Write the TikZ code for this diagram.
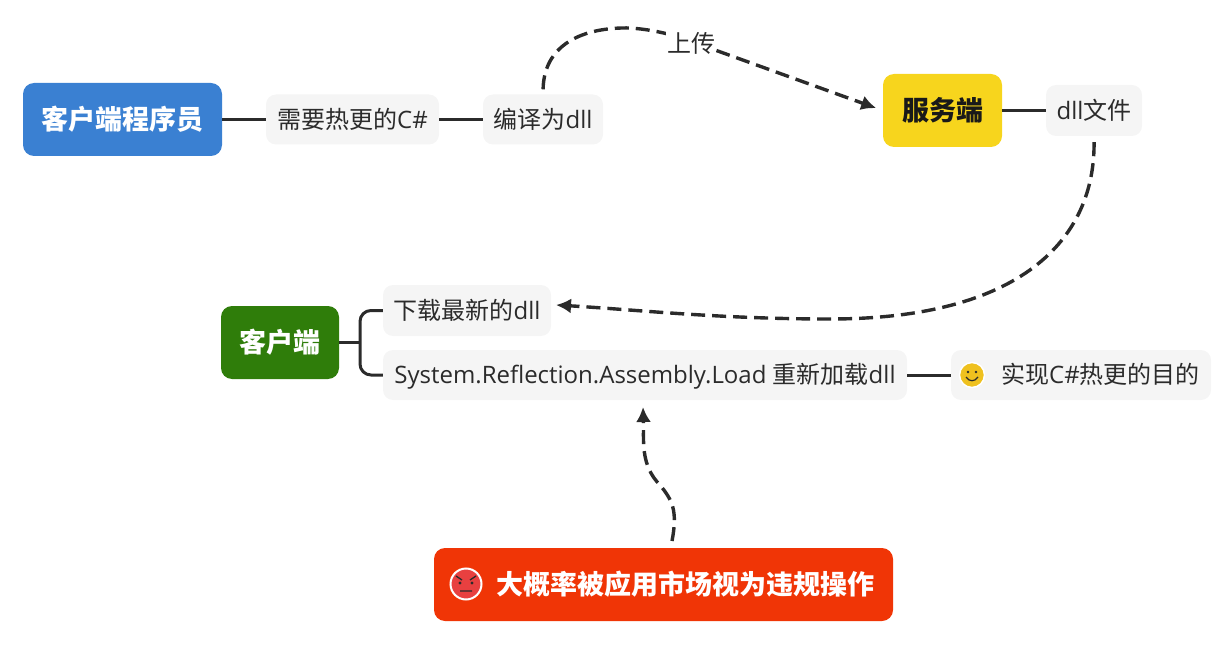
\documentclass[tikz,border=0pt]{standalone}
\usepackage{fontspec}
\setmainfont{Open Sans}
\newfontfamily\cjk{Noto Sans CJK SC}
\newcommand{\zh}[1]{{\cjk #1}}
\usetikzlibrary{arrows.meta}
\usetikzlibrary{calc}
\definecolor{ink}{HTML}{2B2B2B}
\definecolor{leaffill}{HTML}{F5F5F5}
\definecolor{progblue}{HTML}{3A80D2}
\definecolor{servyellow}{HTML}{F7D51D}
\definecolor{clientgreen}{HTML}{2F7D0A}
\definecolor{warnred}{HTML}{F03506}
\definecolor{smileyellow}{HTML}{EFC11F}
\definecolor{angryred}{HTML}{E84040}
\tikzset{
	leaf/.style={fill=leaffill,rounded corners=10pt,text=ink,inner sep=0pt,minimum height=50pt,text height=21pt,text depth=3.5pt,font=\fontsize{24}{28}\selectfont},
	topic/.style={rounded corners=11pt,inner sep=0pt,minimum height=73pt,text=white,font=\fontsize{27}{32}\selectfont\bfseries},
	branch/.style={draw=ink,line width=3pt},
	relation/.style={draw=ink,line width=3.4pt,dash pattern=on 14pt off 7pt,-{Latex[length=15pt,width=15pt]}}
}
\begin{document}
\begin{tikzpicture}[x=1pt,y=-1pt]
	\useasboundingbox (0,0) rectangle (1232,655);

	\node[topic,fill=progblue,minimum width=199pt] (prog) at (122.5,119.5) {\zh{\bfseries 客户端程序员}};
	\node[leaf,minimum width=173pt] (need) at (352.5,119.5) {\zh{需要热更的}C\#};
	\node[leaf,minimum width=120pt] (comp) at (543,119.5) {\zh{编译为}dll};
	\node[topic,fill=servyellow,text=black!90,minimum width=119pt] (server) at (942.5,110.5) {\zh{\bfseries 服务端}};
	\node[leaf,minimum width=96pt,minimum height=51pt] (dll) at (1094,110.5) {dll\zh{文件}};

	\node[topic,fill=clientgreen,minimum width=118pt] (client) at (280,342.5) {\zh{\bfseries 客户端}};
	\node[leaf,minimum width=168pt,minimum height=51pt] (down) at (467,310.5) {\zh{下载最新的}dll};
	\node[leaf,minimum width=524pt] (load) at (645,375) {System.Reflection.Assembly.Load \zh{重新加载}dll};
	\node[leaf,minimum width=260pt] (goal) at (1081,375) {\hspace*{39pt}\zh{实现}C\#\zh{热更的目的}};
	\node[topic,fill=warnred,minimum width=459pt] (warn) at (663.5,584.5) {\hspace*{43pt}\zh{\bfseries 大概率被应用市场视为违规操作}};

	\coordinate (fork) at (360,342.5);
	\coordinate (warntop) at (672,541);
	\coordinate (loadtip) at (643,407);
	\coordinate (downtip) at (556,305);

	\draw[branch] (prog) -- (need);
	\draw[branch] (need) -- (comp);
	\draw[branch] (server) -- (dll);
	\draw[branch] (load) -- (goal);
	\draw[branch] (client) -- (fork);
	\draw[branch,rounded corners=11pt] (down.west) -| (fork) |- (load.west);

	% dashed relations
	\draw[relation,shorten <=5pt,shorten >=7pt] (comp.north) .. controls (544,40) and (590,27) .. (630,28) .. controls (660,30) and (685,38) .. (715,50) -- (server.west);
	\draw[relation,shorten <=6pt] (dll.south) .. controls (1095,240) and (1020,319) .. (830,319) .. controls (720,319) and (640,310) .. (downtip);
	\draw[relation] (warntop) .. controls (678,510) and (672,500) .. (660,485) .. controls (640,465) and (644,440) .. (loadtip);
	\node[fill=white,inner sep=1pt,text=ink,font=\fontsize{24}{28}\selectfont] (upload) at (691,43) {\zh{上传}};

	% emoji
	\node[circle,draw=white,line width=1.5pt,fill=smileyellow,minimum size=25pt,inner sep=0pt] (smile) at (972,375) {};
	\fill[ink] ($(smile)+(-4,-3)$) circle (1.3pt) ($(smile)+(4,-3)$) circle (1.3pt);
	\draw[ink,line width=1.2pt] ($(smile)+(-6,2)$) .. controls ($(smile)+(-3,7)$) and ($(smile)+(3,7)$) .. ($(smile)+(6,2)$);
	\node[circle,draw=white,line width=2pt,fill=angryred,minimum size=31pt,inner sep=0pt] (angry) at (466,584) {};
	\fill[ink] ($(angry)+(-6,-1)$) circle (1.6pt) ($(angry)+(6,-1)$) circle (1.6pt);
	\draw[ink,line width=1.3pt] ($(angry)+(-10,-8)$) -- ($(angry)+(-4,-4)$) ($(angry)+(10,-8)$) -- ($(angry)+(4,-4)$) ($(angry)+(-6,7)$) -- ($(angry)+(6,7)$);
\end{tikzpicture}
\end{document}
